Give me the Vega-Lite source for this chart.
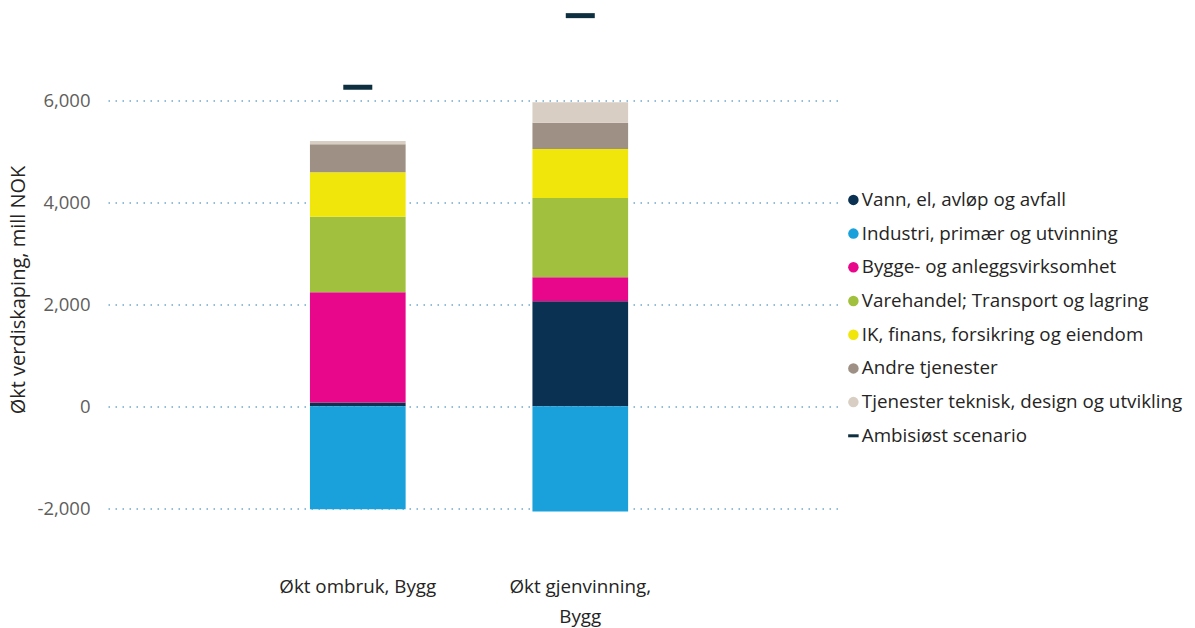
{
  "$schema": "https://vega.github.io/schema/vega-lite/v6.json",
  "autosize": "none",
  "width": 732,
  "height": 510,
  "padding": {"left": 108, "top": 8.5, "right": 355, "bottom": 109.5},
  "background": "white",
  "config": {
    "font": "Open Sans",
    "view": {"stroke": null}
  },
  "datasets": {
    "sectors": [
      {"cat": "Økt ombruk, Bygg", "series": "Vann, el, avløp og avfall", "value": 75},
      {"cat": "Økt ombruk, Bygg", "series": "Industri, primær og utvinning", "value": -2020},
      {"cat": "Økt ombruk, Bygg", "series": "Bygge- og anleggsvirksomhet", "value": 2160},
      {"cat": "Økt ombruk, Bygg", "series": "Varehandel; Transport og lagring", "value": 1483},
      {"cat": "Økt ombruk, Bygg", "series": "IK, finans, forsikring og eiendom", "value": 870},
      {"cat": "Økt ombruk, Bygg", "series": "Andre tjenester", "value": 549},
      {"cat": "Økt ombruk, Bygg", "series": "Tjenester teknisk, design og utvikling", "value": 65},
      {"cat": "Økt gjenvinning, Bygg", "series": "Vann, el, avløp og avfall", "value": 2059},
      {"cat": "Økt gjenvinning, Bygg", "series": "Industri, primær og utvinning", "value": -2065},
      {"cat": "Økt gjenvinning, Bygg", "series": "Bygge- og anleggsvirksomhet", "value": 470},
      {"cat": "Økt gjenvinning, Bygg", "series": "Varehandel; Transport og lagring", "value": 1555},
      {"cat": "Økt gjenvinning, Bygg", "series": "IK, finans, forsikring og eiendom", "value": 961},
      {"cat": "Økt gjenvinning, Bygg", "series": "Andre tjenester", "value": 516},
      {"cat": "Økt gjenvinning, Bygg", "series": "Tjenester teknisk, design og utvikling", "value": 400}
    ],
    "ambition": [
      {"cat": "Økt ombruk, Bygg", "series": "Ambisiøst scenario", "value": 6255},
      {"cat": "Økt gjenvinning, Bygg", "series": "Ambisiøst scenario", "value": 7660}
    ]
  },
  "encoding": {
    "x": {
      "field": "cat",
      "type": "nominal",
      "sort": ["Økt ombruk, Bygg", "Økt gjenvinning, Bygg"],
      "scale": {"paddingInner": 0.57, "paddingOuter": 0.93, "align": 0.488},
      "axis": {
        "title": null,
        "labelAngle": 0,
        "domain": false,
        "ticks": false,
        "labelPadding": 59,
        "labelFontSize": 18.8,
        "labelColor": "#252423",
        "labelLineHeight": 30,
        "labelLimit": 300,
        "labelExpr": "datum.value === 'Økt gjenvinning, Bygg' ? ['Økt gjenvinning,', 'Bygg'] : datum.label"
      }
    },
    "y": {
      "field": "value",
      "type": "quantitative",
      "scale": {"domain": [-2200, 7800], "nice": false, "zero": false},
      "axis": {
        "title": "Økt verdiskaping, mill NOK",
        "titleFontSize": 20,
        "titleFontWeight": "normal",
        "titleColor": "#252423",
        "titleBaseline": "alphabetic",
        "titleX": -84,
        "titleY": 281,
        "values": [-2000, 0, 2000, 4000, 6000],
        "format": ",d",
        "labelExpr": "replace(datum.label, '−', '-')",
        "domain": false,
        "ticks": false,
        "labelPadding": 18,
        "labelFontSize": 18.5,
        "labelColor": "#605E5C",
        "grid": true,
        "gridColor": "#6FA8CC",
        "gridDash": [1.5, 5.5],
        "gridWidth": 1.5
      }
    },
    "color": {
      "field": "series",
      "type": "nominal",
      "sort": [
        "Vann, el, avløp og avfall",
        "Industri, primær og utvinning",
        "Bygge- og anleggsvirksomhet",
        "Varehandel; Transport og lagring",
        "IK, finans, forsikring og eiendom",
        "Andre tjenester",
        "Tjenester teknisk, design og utvikling",
        "Ambisiøst scenario"
      ],
      "scale": {
        "domain": [
          "Vann, el, avløp og avfall",
          "Industri, primær og utvinning",
          "Bygge- og anleggsvirksomhet",
          "Varehandel; Transport og lagring",
          "IK, finans, forsikring og eiendom",
          "Andre tjenester",
          "Tjenester teknisk, design og utvikling",
          "Ambisiøst scenario"
        ],
        "range": ["#0A3152", "#1AA1DB", "#E8078A", "#A1C03D", "#F0E60C", "#9E9084", "#D8CEC4", "#0D2F40"]
      },
      "legend": {
        "orient": "none",
        "legendX": 736,
        "legendY": 182,
        "title": null,
        "labelFontSize": 18.8,
        "labelColor": "#252423",
        "labelLimit": 400,
        "symbolType": "circle",
        "symbolSize": 110,
        "rowPadding": 13.7,
        "labelOffset": -1,
        "symbolOpacity": 1,
        "encode": {
          "symbols": {
            "update": {
              "shape": {"signal": "datum.value === 'Ambisiøst scenario' ? 'stroke' : 'circle'"},
              "stroke": {"signal": "scale('color', datum.value)"},
              "strokeWidth": {"signal": "datum.value === 'Ambisiøst scenario' ? 3 : 0"}
            }
          }
        }
      }
    }
  },
  "layer": [
    {
      "data": {"name": "sectors"},
      "transform": [
        {"calculate": "indexof(['Vann, el, avløp og avfall', 'Industri, primær og utvinning', 'Bygge- og anleggsvirksomhet', 'Varehandel; Transport og lagring', 'IK, finans, forsikring og eiendom', 'Andre tjenester', 'Tjenester teknisk, design og utvikling'], datum.series)", "as": "stackOrder"}
      ],
      "mark": {"type": "bar"},
      "encoding": {"order": {"field": "stackOrder", "type": "quantitative", "sort": "ascending"}}
    },
    {
      "data": {"name": "ambition"},
      "mark": {"type": "tick", "thickness": 5, "size": 29, "opacity": 1}
    }
  ]
}
